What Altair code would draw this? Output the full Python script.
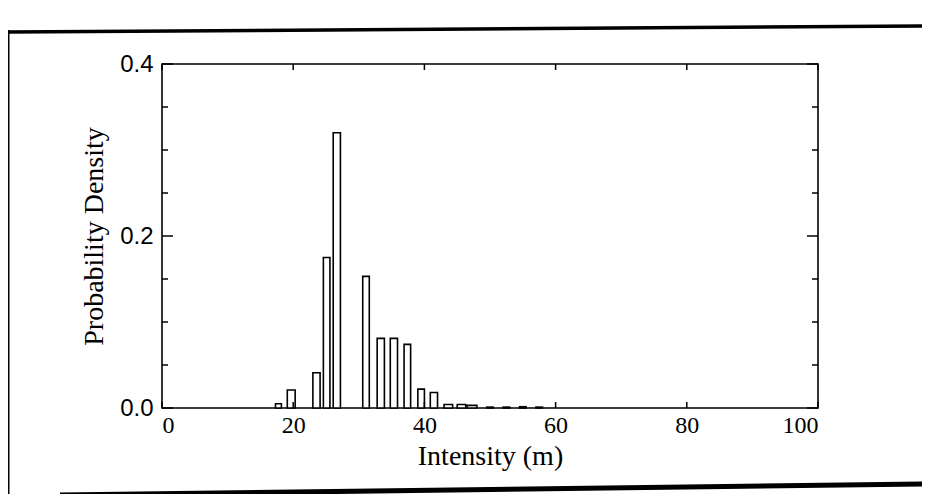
import altair as alt
import pandas as pd

# Histogram bins (left edge, right edge) and probability density
bin_left = [17.3, 19.1, 23.0, 24.6, 26.1, 30.6, 32.8, 34.8, 36.9, 39.0, 40.9, 43.0, 45.0, 46.5, 49.5, 52.0, 54.5, 57.0]
bin_right = [18.2, 20.3, 24.1, 25.6, 27.2, 31.6, 33.9, 35.9, 37.9, 40.0, 42.0, 44.3, 46.3, 48.0, 50.5, 53.0, 55.5, 58.0]
density = [0.005, 0.021, 0.041, 0.175, 0.320, 0.153, 0.081, 0.081, 0.074, 0.022, 0.018,
           0.004, 0.004, 0.003, 0.001, 0.001, 0.0015, 0.001]
baseline = [0.0] * len(density)

y_major = [0.0, 0.2, 0.4]
y_minor = [0.05, 0.1, 0.15, 0.25, 0.3, 0.35]
x_major = [0, 20, 40, 60, 80, 100]

W, H = 656, 344

bars_df = pd.DataFrame({"left": bin_left, "right": bin_right, "density": density, "base": baseline})
xscale = alt.Scale(domain=[0, 100], nice=False, zero=False)
yscale = alt.Scale(domain=[0, 0.4], nice=False)

xaxis = alt.Axis(values=x_major, format="d", ticks=False, tickSize=0, domain=False, grid=False,
                 labelFont="Liberation Serif", labelFontSize=24, labelColor="black",
                 labelPadding=5, title="Intensity (m)", titleFont="Liberation Serif",
                 titleFontSize=28, titleFontWeight="normal", titleColor="black", titlePadding=5)
yaxis = alt.Axis(values=y_major, format=".1f", ticks=False, tickSize=0, domain=False, grid=False,
                 labelFont="Liberation Sans", labelFontSize=24, labelColor="black",
                 labelPadding=9, title="Probability Density", titleFont="Liberation Serif",
                 titleFontSize=28, titleFontWeight="normal", titleColor="black", titlePadding=11)

bars = alt.Chart(bars_df).mark_rect(fill="white", stroke="black", strokeWidth=1.6).encode(
    x=alt.X("left:Q", scale=xscale, axis=xaxis),
    x2="right:Q",
    y=alt.Y("density:Q", scale=yscale, axis=yaxis),
    y2="base:Q",
)

ymaj_df = pd.DataFrame({"v": y_major})
ymin_df = pd.DataFrame({"v": y_minor})
xmaj_df = pd.DataFrame({"v": x_major})


def yticks(df, x1, x2):
    return alt.Chart(df).mark_rule(color="black", strokeWidth=1.5).encode(
        y=alt.Y("v:Q", scale=yscale, axis=yaxis), x=alt.value(x1), x2=alt.value(x2))


def xticks(df, y1, y2):
    return alt.Chart(df).mark_rule(color="black", strokeWidth=1.5).encode(
        x=alt.X("v:Q", scale=xscale, axis=xaxis), y=alt.value(y1), y2=alt.value(y2))


one = pd.DataFrame({"a": [0]})


def frame_line(x1, y1, x2, y2, sw):
    return alt.Chart(one).mark_rule(color="black", strokeWidth=sw).encode(
        x=alt.value(x1), y=alt.value(y1), x2=alt.value(x2), y2=alt.value(y2))


chart = alt.layer(
    bars,
    yticks(ymaj_df, 0, 11), yticks(ymin_df, 0, 6),
    yticks(ymaj_df, W - 11, W), yticks(ymin_df, W - 6, W),
    xticks(xmaj_df, H, H - 6), xticks(xmaj_df, 0, 6),
    frame_line(-155, -32, 768, -38, 3.5),
    frame_line(-154, -34, -154, 440, 3),
    frame_line(765, -42, 765, 416, 2.5),
    frame_line(-102, 431, 768, 420, 5),
).properties(
    width=W, height=H,
    autosize=alt.AutoSizeParams(type="none"),
    padding={"left": 154, "top": 56, "right": 104, "bottom": 86},
    background="white",
).configure_view(stroke="black", strokeWidth=1.6)

chart.save("out.html", embed_options={"renderer": "svg", "actions": False})
